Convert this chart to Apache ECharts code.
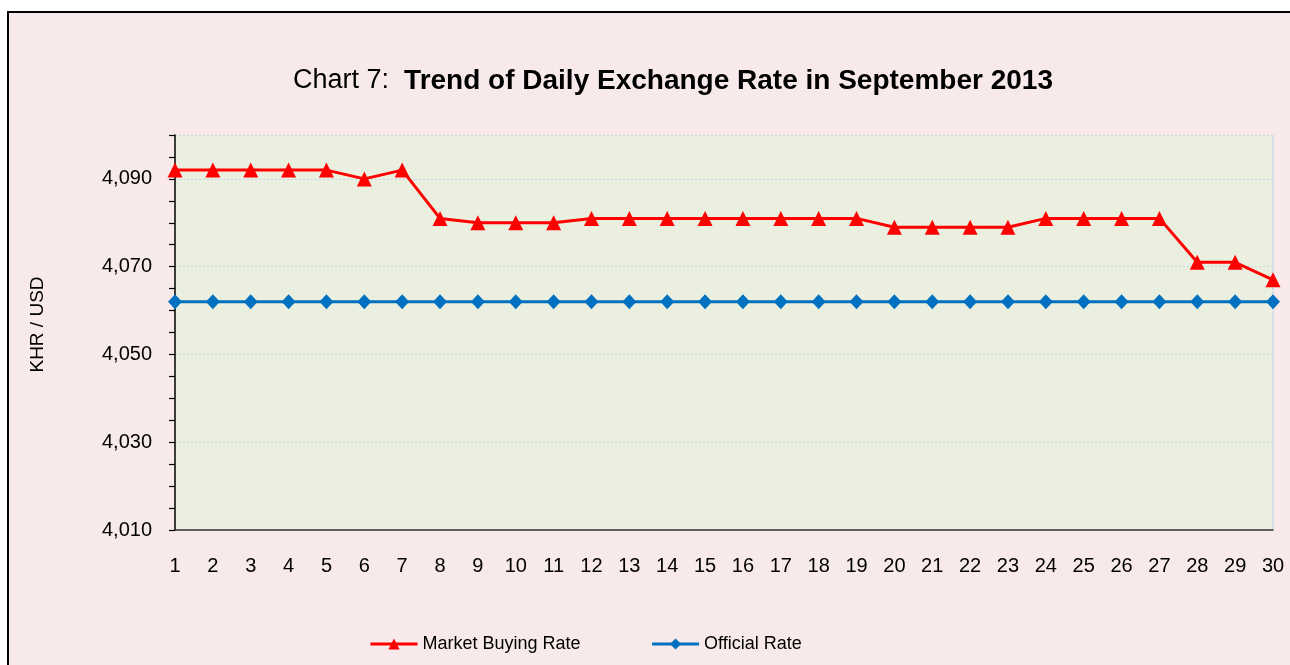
<!DOCTYPE html>
<html>
<head>
<meta charset="utf-8">
<script src="https://cdn.jsdelivr.net/npm/echarts@6/dist/echarts.min.js"></script>
<style>
  html, body { margin: 0; padding: 0; background: #ffffff; overflow: hidden; width: 1290px; height: 665px; }
  #chart { position: absolute; left: 7px; top: 11px; width: 1328px; height: 700px; border: 2px solid #000; background: #f8eaea; }
</style>
</head>
<body>
<div id="chart"></div>
<script>
const days = ['1','2','3','4','5','6','7','8','9','10','11','12','13','14','15','16','17','18','19','20','21','22','23','24','25','26','27','28','29','30'];
const marketBuyingRate = [4092,4092,4092,4092,4092,4090,4092,4081,4080,4080,4080,4081,4081,4081,4081,4081,4081,4081,4081,4079,4079,4079,4079,4081,4081,4081,4081,4071,4071,4067];
const officialRate = [4062,4062,4062,4062,4062,4062,4062,4062,4062,4062,4062,4062,4062,4062,4062,4062,4062,4062,4062,4062,4062,4062,4062,4062,4062,4062,4062,4062,4062,4062];
const yMin = 4010, yMax = 4100, yMinor = 5, yMajor = 20;

const gridColor = '#c8d6ea';
const splitColors = [];
for (let v = yMin, i = 0; v <= yMax; v += yMinor, i++) {
  splitColors.push((i > 0 && ((v - yMin) % yMajor === 0 || v === yMax)) ? gridColor : 'rgba(0,0,0,0)');
}

const chart = echarts.init(document.getElementById('chart'), null, { renderer: 'canvas' });
const font = 'Liberation Sans, Arial, sans-serif';
chart.setOption({
  backgroundColor: '#f8eaea',
  animation: false,
  textStyle: { fontFamily: font },
  title: {
    left: 'center',
    top: 49,
    text: '{n|Chart 7:  }{b|Trend of Daily Exchange Rate in September 2013}',
    textStyle: {
      rich: {
        n: { fontSize: 27, fontFamily: font, color: '#000', fontWeight: 'normal' },
        b: { fontSize: 28, fontFamily: font, color: '#000', fontWeight: 'bold' }
      }
    }
  },
  grid: {
    left: 166, top: 122, width: 1098, height: 395,
    show: true, backgroundColor: '#ebefdf', borderWidth: 0
  },
  legend: {
    left: 355, top: 617,
    itemWidth: 47, itemHeight: 14, itemGap: 70,
    lineStyle: { width: 3 },
    textStyle: { fontSize: 18, fontFamily: font, color: '#000' },
    data: ['Market Buying Rate', 'Official Rate']
  },
  xAxis: {
    type: 'category',
    data: days,
    boundaryGap: false,
    axisLine: { lineStyle: { color: '#333', width: 1.5 } },
    axisTick: { show: false },
    axisLabel: { fontSize: 20, fontFamily: font, color: '#000', margin: 26, interval: 0 },
    splitLine: { show: false }
  },
  yAxis: [{
    type: 'value',
    min: yMin, max: yMax, interval: yMinor,
    name: 'KHR / USD',
    nameLocation: 'middle',
    nameGap: 128,
    nameTextStyle: { fontSize: 19, fontFamily: font, color: '#000', padding: [0, 0, 0, 16] },
    axisLine: { show: true, lineStyle: { color: '#000', width: 1.5 } },
    axisTick: { show: true, length: 6, lineStyle: { color: '#000', width: 1.2 } },
    axisLabel: {
      fontSize: 20, fontFamily: font, color: '#000', margin: 23,
      formatter: function (v) {
        if ((v - yMin) % yMajor !== 0) return '';
        return v.toLocaleString('en-US');
      }
    },
    splitLine: { show: true, lineStyle: { color: splitColors, type: [2, 2], width: 1 } }
  }, {
    type: 'value',
    position: 'right',
    min: yMin, max: yMax,
    axisLine: { show: true, lineStyle: { color: gridColor, type: [2, 2], width: 1.5 } },
    axisTick: { show: false },
    axisLabel: { show: false },
    splitLine: { show: false }
  }],
  series: [{
    name: 'Market Buying Rate',
    type: 'line',
    data: marketBuyingRate,
    symbol: 'triangle',
    symbolSize: [15, 15],
    lineStyle: { color: '#ff0000', width: 3 },
    itemStyle: { color: '#ff0000' },
    z: 3
  }, {
    name: 'Official Rate',
    type: 'line',
    data: officialRate,
    symbol: 'diamond',
    symbolSize: [14, 15],
    lineStyle: { color: '#0070c0', width: 3 },
    itemStyle: { color: '#0070c0' },
    z: 2
  }]
});
</script>
</body>
</html>
